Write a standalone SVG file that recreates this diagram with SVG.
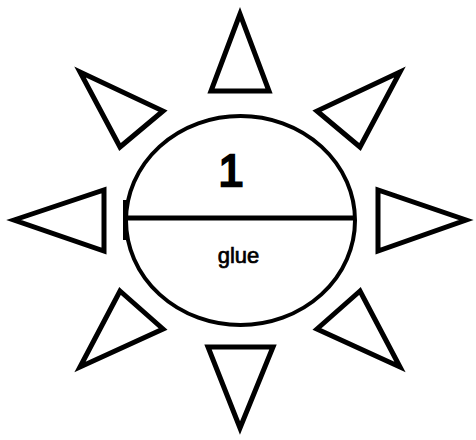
<svg xmlns="http://www.w3.org/2000/svg" width="476" height="440" viewBox="0 0 476 440">
<style>
.tri{fill:#fff;stroke:#000;stroke-width:5;stroke-linejoin:miter}
.ln{stroke:#000;stroke-width:5;fill:none}
.t{font-family:"Liberation Sans",Arial,sans-serif;text-anchor:middle;fill:#000}
</style>
<rect width="476" height="440" fill="#fff"/>
<g id="rays">
<polygon class="tri" points="240,14 211,91 269,91"/>
<polygon class="tri" points="208,347 273,347 240,428"/>
<polygon class="tri" points="14,220 104,190 104,251"/>
<polygon class="tri" points="378,190 378,251 466,220"/>
<polygon class="tri" points="80,72 163,111 120,147"/>
<polygon class="tri" points="400,72 317,111 360,147"/>
<polygon class="tri" points="120,291 163,329 80,367"/>
<polygon class="tri" points="360,291 317,329 400,367"/>
</g>
<g id="node1">
<ellipse cx="240.5" cy="220.5" rx="114.5" ry="104.5" fill="#fff" stroke="#000" stroke-width="4"/>
<line class="ln" x1="127" y1="218" x2="355" y2="218"/>
<line class="ln" x1="125.5" y1="200" x2="125.5" y2="240"/>
<text class="t" x="231" y="186" font-size="45" stroke="#000" stroke-width="2.5">1</text>
<text class="t" x="238.5" y="263" font-size="22" stroke="#000" stroke-width="0.7">glue</text>
</g>
<g id="connectors"/>
</svg>
